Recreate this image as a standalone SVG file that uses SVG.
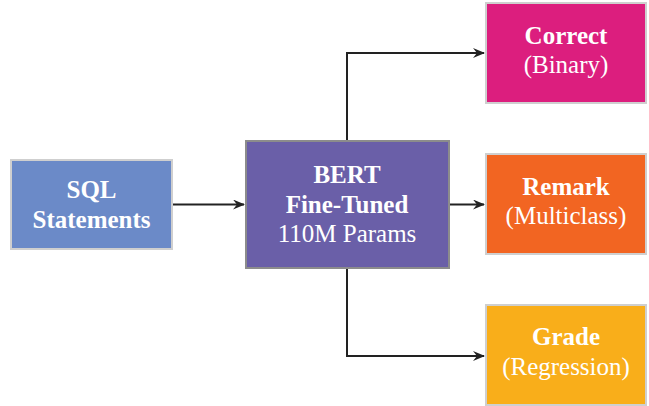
<svg xmlns="http://www.w3.org/2000/svg" width="649" height="406" viewBox="0 0 649 406">
<defs>
<marker id="ah" viewBox="0 0 12 10" refX="11" refY="5" markerWidth="12" markerHeight="10" markerUnits="userSpaceOnUse" orient="auto">
<path d="M0,0 L12,5 L0,10 L4,5 Z" fill="#222"/>
</marker>
<style>
.box{stroke:#cfcfcf;stroke-width:2}
.c{fill:none;stroke:#222;stroke-width:2;marker-end:url(#ah)}
</style>
</defs>
<rect width="649" height="406" fill="#fff"/>
<g id="connectors">
<path class="c" d="M172,204.5 H244"/>
<path class="c" d="M449,204.5 H484"/>
<path class="c" d="M347,141 V53 H484"/>
<path class="c" d="M347,268 V356 H484"/>
</g>
<g font-family="Liberation Serif, serif" font-size="25" fill="#fff" text-anchor="middle">
<g id="sql">
<rect class="box" x="11" y="160" width="161" height="89" fill="#6b8ac8"/>
<text font-weight="bold" x="91.5" y="198">SQL</text>
<text font-weight="bold" x="91.5" y="228">Statements</text>
</g>
<g id="bert">
<rect x="246" y="141" width="203" height="127" fill="#6a5fa8" stroke="#8c8c8c" stroke-width="2"/>
<text font-weight="bold" x="347" y="183">BERT</text>
<text font-weight="bold" x="347" y="213">Fine-Tuned</text>
<text x="347" y="242">110M Params</text>
</g>
<g id="correct">
<rect class="box" x="486" y="3" width="160" height="100" fill="#dc1e7e"/>
<text font-weight="bold" x="566" y="44">Correct</text>
<text x="566" y="73">(Binary)</text>
</g>
<g id="remark">
<rect class="box" x="486" y="154" width="160" height="100" fill="#f26522"/>
<text font-weight="bold" x="566" y="195">Remark</text>
<text x="566" y="224">(Multiclass)</text>
</g>
<g id="grade">
<rect class="box" x="486" y="305" width="160" height="100" fill="#f9ae1a"/>
<text font-weight="bold" x="566" y="345">Grade</text>
<text x="566" y="375">(Regression)</text>
</g>
</g>
</svg>
